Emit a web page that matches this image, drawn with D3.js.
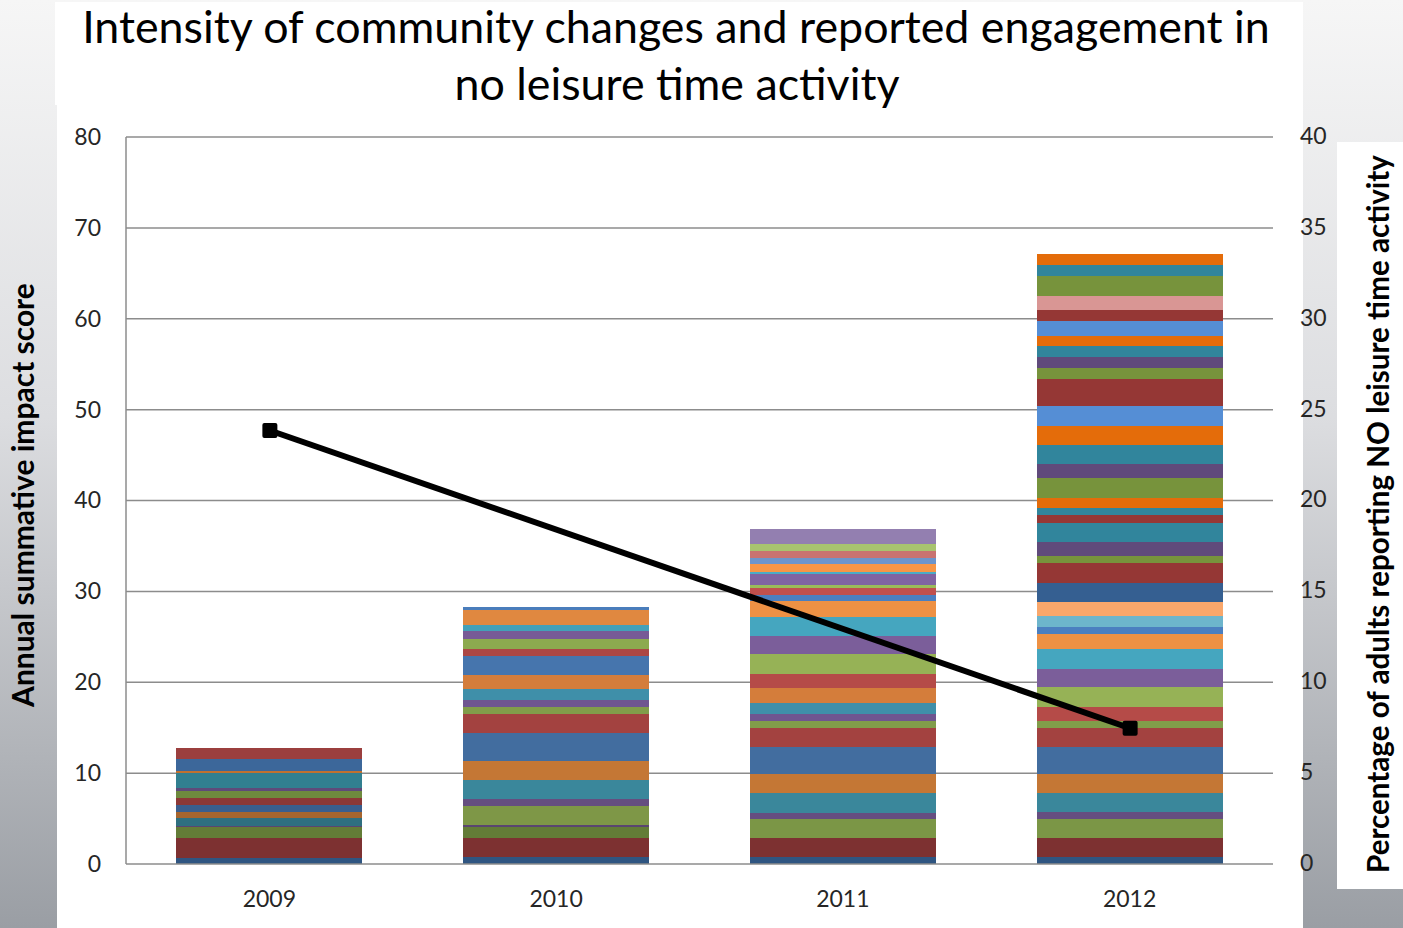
<!DOCTYPE html>
<html>
<head>
<meta charset="utf-8">
<script src="https://cdn.jsdelivr.net/npm/d3@7"></script>
<style>
  html, body { margin: 0; padding: 0; }
  body { width: 1403px; height: 928px; overflow: hidden; }
  svg { display: block; }
</style>
</head>
<body>
<svg id="chart" width="1403" height="928"></svg>
<script>
// Years on the category axis
const years = ["2009", "2010", "2011", "2012"];

// Impact scores of the individual community changes, stacked bottom to top
const impacts2009 = [0.69, 2.13, 1.21, 0.14, 0.91, 0.66, 0.70, 0.80, 0.77, 0.33, 1.62, 0.25, 1.29, 1.24];
const impacts2010 = [0.74, 2.09, 1.21, 0.22, 2.17, 0.70, 2.12, 2.09, 3.05, 2.09, 0.77, 0.80, 1.18, 1.57, 2.12, 0.73, 1.10, 0.88, 0.66, 1.65, 0.36];
const impacts2011 = [0.74, 2.09, 2.09, 0.73, 2.13, 2.13, 2.93, 2.09, 0.80, 0.74, 1.21, 1.65, 1.57, 2.17, 2.06, 2.09, 1.73, 0.66, 0.80, 0.30, 1.21, 0.25, 0.85, 0.69, 0.74, 0.77, 1.65];
const impacts2012 = [0.74, 2.09, 2.12, 0.74, 2.09, 2.12, 2.94, 2.09, 0.77, 1.61, 2.13, 2.05, 2.13, 1.68, 0.77, 1.21, 1.54, 2.09, 2.20, 0.77, 1.54, 2.09, 0.88, 0.77, 1.10, 2.20, 1.54, 2.09, 2.12, 2.17, 2.97, 1.21, 1.21, 1.21, 1.10, 1.65, 1.21, 1.54, 2.20, 1.21, 1.21];

// Percentage of adults reporting no leisure time activity (no survey in 2010, 2011)
const noLeisurePct = [23.85, null, null, 7.47];

// Axis ticks
const leftTicks = [0, 10, 20, 30, 40, 50, 60, 70, 80];
const rightTicks = [0, 5, 10, 15, 20, 25, 30, 35, 40];

// Fill colours of the stacked pieces, bottom to top
const fills2009 = ["#2f5581", "#7d3131", "#637c37", "#5a4571", "#2e6f80", "#a6652e", "#3a5e8d", "#8c3836", "#6e8a3e", "#5e4a7a", "#317f90", "#c0712f", "#3c679a", "#9b3f3e"];
const fills2010 = ["#2f5581", "#7d3131", "#637c37", "#5a4571", "#7e9747", "#654e80", "#3a879b", "#c47735", "#426d9f", "#a34240", "#819d4a", "#6f5590", "#3f8fa9", "#d47d3b", "#4675ad", "#ac4744", "#8caa4f", "#775a96", "#43a0b8", "#e08840", "#4a7dbb"];
const fills2011 = ["#2f5581", "#7d3131", "#7b9646", "#654e80", "#3a879b", "#c47735", "#426d9f", "#a34240", "#819d4a", "#6f5590", "#3f8fa9", "#d47d3b", "#b54b48", "#96b256", "#7b5e9a", "#45a6bf", "#ee9144", "#4b7fc0", "#c0504d", "#9bbb59", "#8064a2", "#4bacc6", "#f79646", "#6c95cc", "#c97371", "#a8c36f", "#937fb0"];
const fills2012 = ["#2f5581", "#7d3131", "#7b9646", "#654e80", "#3a879b", "#c47735", "#426d9f", "#a34240", "#819d4a", "#b54b48", "#96b256", "#7b5e9a", "#45a6bf", "#ee9144", "#4b7fc0", "#6db5cc", "#f9a76b", "#355f91", "#953735", "#77933c", "#604a7b", "#31859c", "#953735", "#31859c", "#e46c0a", "#77933c", "#604a7b", "#31859c", "#e46c0a", "#558ed5", "#953735", "#77933c", "#604a7b", "#31859c", "#e46c0a", "#558ed5", "#953735", "#d99694", "#77933c", "#31859c", "#e46c0a"];

const impactsByYear = [impacts2009, impacts2010, impacts2011, impacts2012];
const fillsByYear = [fills2009, fills2010, fills2011, fills2012];

const svg = d3.select("#chart");
const W = 1403, H = 928;

// Slide background and white panels
const defs = svg.append("defs");
const bg = defs.append("linearGradient").attr("id", "slideBg")
  .attr("x1", 0).attr("y1", 0).attr("x2", 0).attr("y2", 1);
bg.append("stop").attr("offset", "0%").attr("stop-color", "#f6f6f6");
bg.append("stop").attr("offset", "45%").attr("stop-color", "#dcdde0");
bg.append("stop").attr("offset", "100%").attr("stop-color", "#9a9ea4");
svg.append("rect").attr("width", W).attr("height", H).attr("fill", "url(#slideBg)");
svg.append("rect").attr("x", 55).attr("y", 2).attr("width", 1248).attr("height", 103).attr("fill", "#fff");
svg.append("rect").attr("x", 57).attr("y", 105).attr("width", 1246).attr("height", 823).attr("fill", "#fff");
svg.append("rect").attr("x", 1337).attr("y", 142).attr("width", 66).attr("height", 747).attr("fill", "#fff");

const plot = { left: 126, right: 1273, top: 137, bottom: 864 };

const x = d3.scaleBand().domain(years).range([plot.left, plot.right]).paddingInner(0.352).paddingOuter(0.176);
const y = d3.scaleLinear().domain([0, 80]).range([plot.bottom, plot.top]);
const y2 = d3.scaleLinear().domain([0, 40]).range([plot.bottom, plot.top]);

const font = "Lato, 'Open Sans', sans-serif";

// Horizontal gridlines
svg.append("g").selectAll("line").data(leftTicks.filter(d => d > 0)).join("line")
  .attr("x1", plot.left).attr("x2", plot.right)
  .attr("y1", d => y(d)).attr("y2", d => y(d))
  .attr("stroke", "#8c8c8c").attr("stroke-width", 1.5);

// Stacked bars: each piece is one community change
years.forEach((yr, i) => {
  const vals = impactsByYear[i];
  const fills = fillsByYear[i];
  const stacked = d3.cumsum(vals);
  const pieces = vals.map((v, j) => ({ y0: stacked[j] - v, y1: stacked[j], fill: fills[j % fills.length] }));
  svg.append("g").selectAll("rect").data(pieces).join("rect")
    .attr("x", x(yr)).attr("width", x.bandwidth())
    .attr("y", d => y(d.y1)).attr("height", d => y(d.y0) - y(d.y1))
    .attr("fill", d => d.fill)
    .attr("shape-rendering", "crispEdges");
});

// Axis lines
svg.append("line").attr("x1", plot.left).attr("x2", plot.left).attr("y1", plot.top).attr("y2", plot.bottom)
  .attr("stroke", "#8c8c8c").attr("stroke-width", 1.5);
svg.append("line").attr("x1", plot.left).attr("x2", plot.right).attr("y1", plot.bottom).attr("y2", plot.bottom)
  .attr("stroke", "#8c8c8c").attr("stroke-width", 1.5);

// Left axis labels
const leftAxis = d3.axisLeft(y).tickValues(leftTicks).tickSize(0).tickPadding(0);
const gl = svg.append("g").attr("transform", `translate(${plot.left - 25},0)`).call(leftAxis);
gl.select(".domain").remove();
gl.selectAll("text").attr("font-family", font).attr("font-size", 23).attr("fill", "#262626");

// Right axis labels
const rightAxis = d3.axisRight(y2).tickValues(rightTicks).tickSize(0).tickPadding(0);
const gr = svg.append("g").attr("transform", `translate(1300,-1)`).call(rightAxis);
gr.select(".domain").remove();
gr.selectAll("text").attr("font-family", font).attr("font-size", 23).attr("fill", "#262626");

// Category labels
const bottomAxis = d3.axisBottom(x).tickSize(0).tickPadding(0);
const gb = svg.append("g").attr("transform", `translate(0,${plot.bottom + 27})`).call(bottomAxis);
gb.select(".domain").remove();
gb.selectAll("text").attr("font-family", font).attr("font-size", 23).attr("fill", "#262626");

// Line on the secondary axis, connecting the years that have a value
const lineX = d => x(d.yr) + x.bandwidth() / 2 + 0.5;
const linePts = years.map((yr, i) => ({ yr, v: noLeisurePct[i] })).filter(d => d.v != null);
svg.append("path").datum(linePts)
  .attr("d", d3.line().x(lineX).y(d => y2(d.v)))
  .attr("fill", "none").attr("stroke", "#000").attr("stroke-width", 6);
svg.append("g").selectAll("rect").data(linePts).join("rect")
  .attr("x", d => lineX(d) - 7.5).attr("y", d => y2(d.v) - 7.5)
  .attr("width", 15).attr("height", 15).attr("rx", 2).attr("fill", "#000");

// Text helper: shrink or grow a label to a target length
function fitText(sel, targetLen) {
  const len = sel.node().getComputedTextLength();
  const fs = parseFloat(sel.attr("font-size"));
  sel.attr("font-size", fs * targetLen / len);
}

// Title
const t1 = svg.append("text").attr("x", 676).attr("y", 43).attr("text-anchor", "middle")
  .attr("font-family", font).attr("font-size", 40).attr("fill", "#000")
  .text("Intensity of community changes and reported engagement in");
fitText(t1, 1188);
svg.append("text").attr("x", 677).attr("y", 100).attr("text-anchor", "middle")
  .attr("font-family", font).attr("font-size", t1.attr("font-size")).attr("fill", "#000")
  .text("no leisure time activity");

// Axis titles
const lt = svg.append("text").attr("transform", "translate(34,495) rotate(-90)").attr("text-anchor", "middle")
  .attr("font-family", font).attr("font-weight", "bold").attr("font-size", 22).attr("fill", "#000")
  .text("Annual summative impact score");
fitText(lt, 424);
const rt = svg.append("text").attr("transform", "translate(1389,514) rotate(-90)").attr("text-anchor", "middle")
  .attr("font-family", font).attr("font-weight", "bold").attr("font-size", 22).attr("fill", "#000")
  .text("Percentage of adults reporting NO leisure time activity");
fitText(rt, 718);
</script>
</body>
</html>
